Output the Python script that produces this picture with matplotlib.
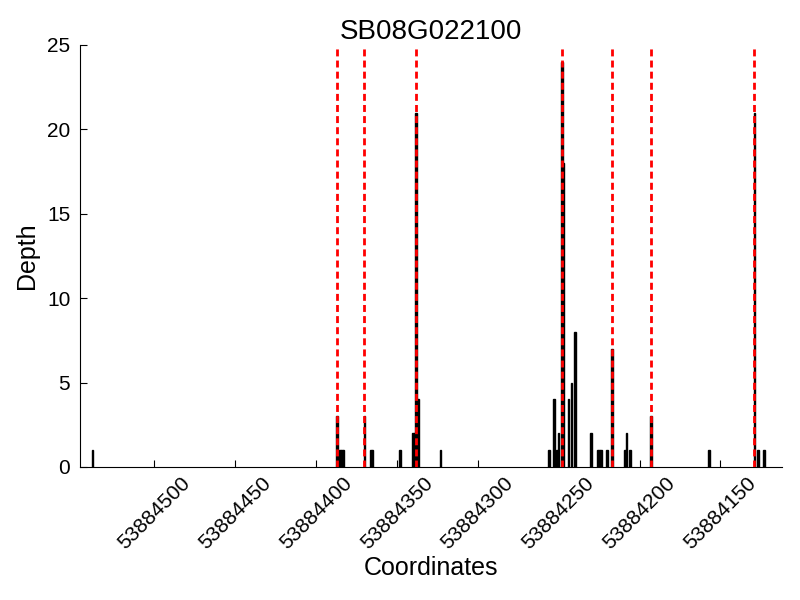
import matplotlib
matplotlib.use("Agg")
import matplotlib.pyplot as plt

plt.rcParams['font.family'] = ['Liberation Sans', 'DejaVu Sans']

title = "SB08G022100"
positions = [53884538,
             53884387, 53884385, 53884384, 53884383,
             53884370, 53884366, 53884365,
             53884348,
             53884340, 53884339, 53884338, 53884337,
             53884323,
             53884256, 53884253, 53884251, 53884250, 53884248, 53884247,
             53884244, 53884242, 53884240,
             53884230, 53884226, 53884225, 53884224, 53884220, 53884217,
             53884209, 53884208, 53884206,
             53884193,
             53884157,
             53884129, 53884127, 53884123]
depths = [1,
          3, 1, 1, 1,
          3, 1, 1,
          1,
          2, 2, 21, 4,
          1,
          1, 4, 1, 2, 24, 18,
          4, 5, 8,
          2, 1, 1, 1, 1, 7,
          1, 2, 1,
          3,
          1,
          21, 1, 1]
boundaries = [53884387, 53884370, 53884338, 53884248, 53884217, 53884193, 53884129]
xticks = [53884500, 53884450, 53884400, 53884350, 53884300, 53884250, 53884200, 53884150]
yticks = [0, 5, 10, 15, 20, 25]

fig = plt.figure(figsize=(8, 6), dpi=100)
ax = fig.add_axes([0.1, 0.2217, 0.8775, 0.7033])

ax.bar(positions, depths, width=1.0, color='black', edgecolor='black', linewidth=1)
for b in boundaries:
    ax.axvline(b, color='red', linestyle='--', linewidth=2, dashes=(2.5, 1.5), zorder=3)

ax.set_xlim(53884545.7, 53884112)
ax.set_ylim(0, 25)
ax.set_xticks(xticks)
ax.set_xticklabels([str(t) for t in xticks], rotation=45, fontsize=15)
ax.set_yticks(yticks)
ax.set_yticklabels([str(t) for t in yticks], fontsize=15)
ax.tick_params(direction='in', length=5, top=False, right=False, pad=5)
ax.tick_params(axis='y', pad=7)
ax.spines['top'].set_visible(False)
ax.spines['right'].set_visible(False)
ax.set_xlabel("Coordinates", fontsize=18, labelpad=2)
ax.set_ylabel("Depth", fontsize=18, labelpad=6)
ax.set_title(title, fontsize=20, pad=2)

fig.savefig("out.png", dpi=100)
